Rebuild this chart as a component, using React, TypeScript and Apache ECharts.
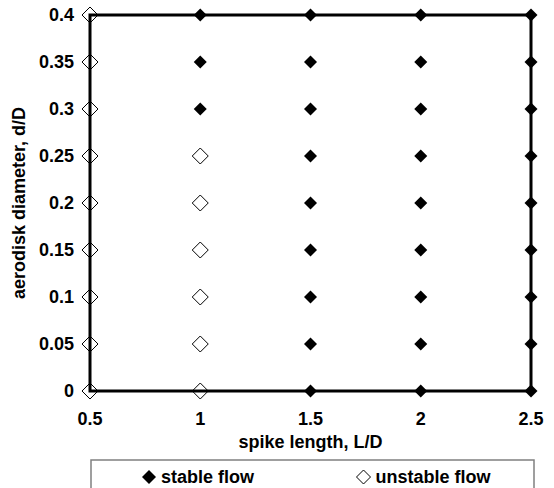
import React, { useEffect, useRef } from "react";
import * as echarts from "echarts";

const xTicks = [0.5, 1, 1.5, 2, 2.5];
const yTicks = [0, 0.05, 0.1, 0.15, 0.2, 0.25, 0.3, 0.35, 0.4];

// stable flow points (d/D values at each L/D)
const stableX1 = [0.3, 0.35, 0.4];
const stableX15 = [0, 0.05, 0.1, 0.15, 0.2, 0.25, 0.3, 0.35, 0.4];
const stableX2 = [0, 0.05, 0.1, 0.15, 0.2, 0.25, 0.3, 0.35, 0.4];
const stableX25 = [0, 0.05, 0.1, 0.15, 0.2, 0.25, 0.3, 0.35, 0.4];

// unstable flow points
const unstableX05 = [0, 0.05, 0.1, 0.15, 0.2, 0.25, 0.3, 0.35, 0.4];
const unstableX1 = [0, 0.05, 0.1, 0.15, 0.2, 0.25];

const stableData = [
  ...stableX1.map((y) => [1, y]),
  ...stableX15.map((y) => [1.5, y]),
  ...stableX2.map((y) => [2, y]),
  ...stableX25.map((y) => [2.5, y]),
];
const unstableData = [
  ...unstableX05.map((y) => [0.5, y]),
  ...unstableX1.map((y) => [1, y]),
];

const FONT = "Liberation Sans, Arial, sans-serif";

export default function App() {
  const ref = useRef<HTMLDivElement>(null);
  useEffect(() => {
    if (!ref.current) return;
    const chart = echarts.init(ref.current, undefined, { renderer: "svg" });
    const labelStyle = { color: "#000", fontWeight: "bold", fontSize: 18, fontFamily: FONT };
    chart.setOption({
      animation: false,
      backgroundColor: "#fff",
      grid: {
        left: 90,
        right: 23,
        top: 15,
        bottom: 97,
        show: true,
        borderColor: "#000",
        borderWidth: 3,
        backgroundColor: "transparent",
      },
      xAxis: {
        type: "value",
        min: xTicks[0],
        max: xTicks[xTicks.length - 1],
        interval: 0.5,
        name: "spike length, L/D",
        nameLocation: "middle",
        nameGap: 36,
        nameTextStyle: labelStyle,
        axisLine: { show: false },
        axisTick: { show: false },
        splitLine: { show: false },
        axisLabel: { ...labelStyle, margin: 19 },
      },
      yAxis: {
        type: "value",
        min: yTicks[0],
        max: yTicks[yTicks.length - 1],
        interval: 0.05,
        name: "aerodisk diameter, d/D",
        nameLocation: "middle",
        nameGap: 61,
        nameTextStyle: labelStyle,
        axisLine: { show: false },
        axisTick: { show: false },
        splitLine: { show: false },
        axisLabel: { ...labelStyle, margin: 16 },
      },
      legend: {
        left: 137,
        top: 463,
        itemWidth: 14,
        itemHeight: 14,
        itemGap: 102,
        textStyle: labelStyle,
        data: [
          { name: "stable flow", icon: "diamond", itemStyle: { color: "#000", opacity: 1 } },
          {
            name: "unstable flow",
            icon: "diamond",
            itemStyle: { color: "#fff", borderColor: "#000", borderWidth: 1, opacity: 1 },
          },
        ],
      },
      graphic: [
        {
          type: "rect",
          shape: { x: 91, y: 460, width: 443, height: 40 },
          style: { fill: "none", stroke: "#808080", lineWidth: 1.5 },
          z: -1,
        },
      ],
      series: [
        {
          name: "stable flow",
          type: "scatter",
          symbol: "diamond",
          symbolSize: 13,
          itemStyle: { color: "#000", opacity: 1 },
          data: stableData,
          z: 3,
        },
        {
          name: "unstable flow",
          type: "scatter",
          symbol: "diamond",
          symbolSize: 16,
          itemStyle: {
            color: "rgba(255,255,255,0)",
            borderColor: "#000",
            borderWidth: 1,
            opacity: 1,
          },
          data: unstableData,
          z: 3,
        },
      ],
    });
    return () => chart.dispose();
  }, []);
  return (
    <div
      ref={ref}
      style={{ width: 554, height: 488, position: "absolute", left: 0, top: 0 }}
    />
  );
}
